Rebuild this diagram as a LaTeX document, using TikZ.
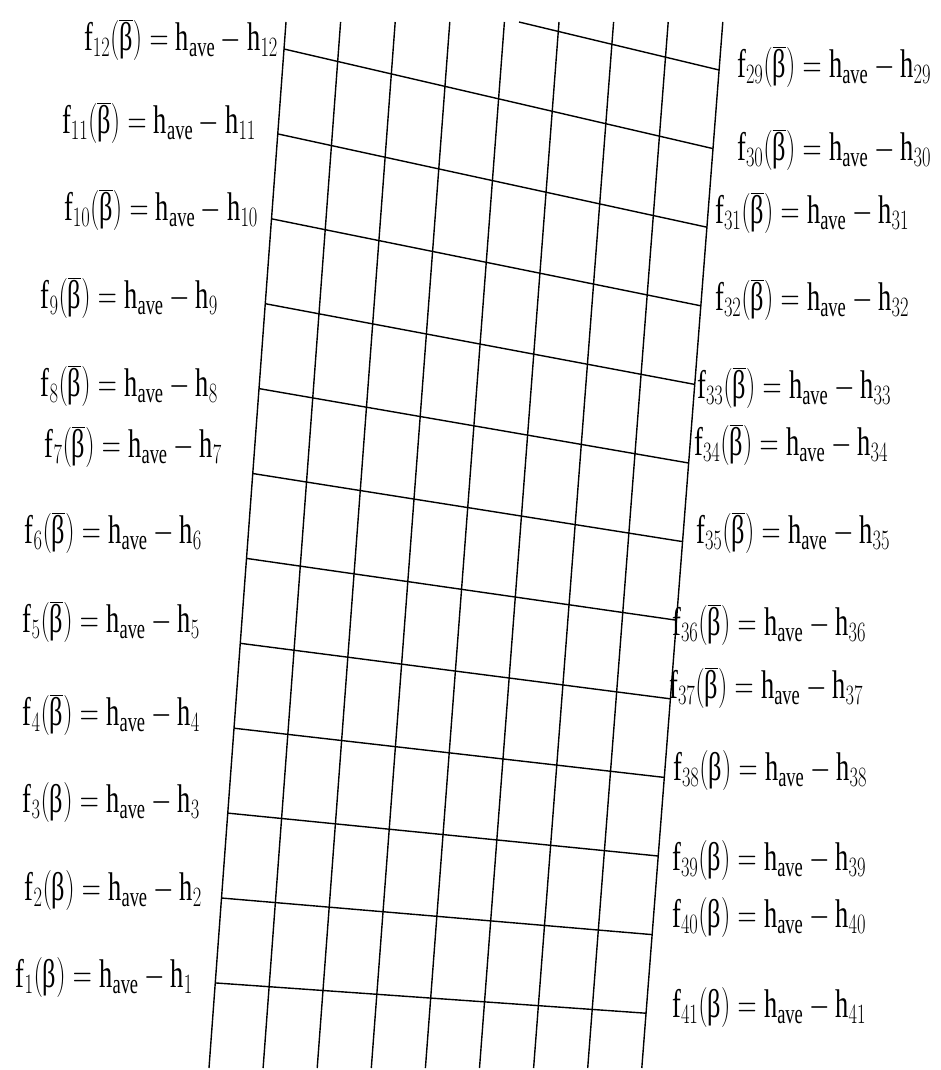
\RequirePackage{fix-cm}
\documentclass[tikz,border=0pt]{standalone}
\usepackage{fontspec}
\setmainfont{Liberation Serif}
\usepackage{graphicx}
\usepackage{tikz}
\usetikzlibrary{calc,positioning}
\newcommand{\heq}[2]{\scalebox{0.66}[1]{$\mathrm{f}_{#1}(#2)=\mathrm{h}_{\mathrm{ave}}-\mathrm{h}_{#1}$}}
\newcommand{\bb}{\overline{\mbox{β}}}
\newcommand{\nb}{\mbox{β}}
\tikzset{
  % rutnät
  gl/.style={draw=black,line width=1.4pt},
  % etiketter
  lblL/.style={anchor=east,inner sep=0pt,font=\fontsize{40}{44}\selectfont},
  lblR/.style={anchor=west,inner sep=0pt,font=\fontsize{40}{44}\selectfont},
}
\begin{document}
\begin{tikzpicture}[x=1pt,y=-1pt]
\useasboundingbox (0,0) rectangle (941,1070);
  % lodräta linjer
  \foreach \i in {0,...,8}{
    \coordinate (b\i) at ({209+54.1*\i},1068);
    \coordinate (t\i) at ({286+54.6*\i},22);
    \draw[gl] (b\i) -- (t\i);
  }
  % vågräta linjer
  \foreach \k in {1,...,12}{
    \pgfmathsetmacro{\yl}{49+84.9*(\k-1)}
    \coordinate (l\k) at ($(b0)!{(1068-\yl)/1046}!(t0)$);
  }
  \foreach \k in {0,...,12}{
    \pgfmathsetmacro{\yr}{70+78.6*\k}
    \coordinate (r\k) at ($(b8)!{(1068-\yr)/1046}!(t8)$);
  }
  \coordinate (l0) at (519,22);
  \foreach \k in {0,...,12}
    \draw[gl] (l\k) -- (r\k);
  % vänster
  \node[lblL] (f12) at (278,40)  {\heq{12}{\bb}};
  \node[lblL] (f11) at (256,123) {\heq{11}{\bb}};
  \node[lblL] (f10) at (258,210) {\heq{10}{\bb}};
  \node[lblL] (f9)  at (218,298) {\heq{9}{\bb}};
  \node[lblL] (f8)  at (218,386) {\heq{8}{\bb}};
  \node[lblL] (f7)  at (222,447) {\heq{7}{\bb}};
  \node[lblL] (f6)  at (202,533) {\heq{6}{\bb}};
  \node[lblL] (f5)  at (200,622) {\heq{5}{\bb}};
  \node[lblL] (f4)  at (200,715) {\heq{4}{\bb}};
  \node[lblL] (f3)  at (200,802) {\heq{3}{\nb}};
  \node[lblL] (f2)  at (202,890) {\heq{2}{\nb}};
  \node[lblL] (f1)  at (193,977) {\heq{1}{\nb}};
  % höger
  \node[lblR] (f29) at (737,67)   {\heq{29}{\bb}};
  \node[lblR] (f30) at (737,150)  {\heq{30}{\bb}};
  \node[lblR] (f31) at (715,213)  {\heq{31}{\bb}};
  \node[lblR] (f32) at (715,300)  {\heq{32}{\bb}};
  \node[lblR] (f33) at (697,388)  {\heq{33}{\bb}};
  \node[lblR] (f34) at (694,445)  {\heq{34}{\bb}};
  \node[lblR] (f35) at (696,533)  {\heq{35}{\bb}};
  \node[lblR] (f36) at (672,625)  {\heq{36}{\bb}};
  \node[lblR] (f37) at (669,688)  {\heq{37}{\bb}};
  \node[lblR] (f38) at (673,770)  {\heq{38}{\nb}};
  \node[lblR] (f39) at (672,860)  {\heq{39}{\nb}};
  \node[lblR] (f40) at (672,917)  {\heq{40}{\nb}};
  \node[lblR] (f41) at (672,1007) {\heq{41}{\nb}};
\end{tikzpicture}
\end{document}
